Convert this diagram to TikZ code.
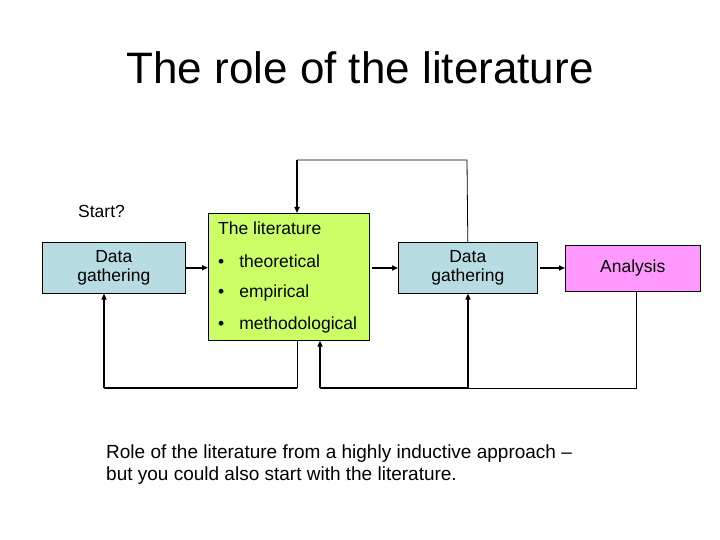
\documentclass[tikz,border=0pt]{standalone}
\usepackage{fontspec}
\setmainfont{Liberation Sans}
\usetikzlibrary{arrows.meta}
\definecolor{dgblue}{RGB}{183,221,227}
\definecolor{litgreen}{RGB}{204,255,102}
\definecolor{anapink}{RGB}{255,153,255}
\begin{document}
\begin{tikzpicture}[x=1pt,y=-1pt,
  box/.style={draw=black,line width=0.6pt,anchor=north west,inner sep=0pt,align=center,font=\fontsize{17.5}{19.5}\selectfont},
  thin/.style={line width=0.8pt},
  thick/.style={line width=1.8pt,-{Triangle[length=6pt,width=5pt]}},
  txt/.style={anchor=west,inner sep=0pt,font=\fontsize{17.5}{20}\selectfont}]
\useasboundingbox (0,0) rectangle (720,540);
\node[anchor=center,font=\fontsize{44}{48}\selectfont] (title) at (360,68) {The role of the literature};
\node[txt] (start) at (78,211) {Start?};
\node[box,fill=dgblue,minimum width=143pt,minimum height=51pt] (dg1) at (42,242) {Data\\gathering};
\node[box,fill=litgreen,minimum width=161pt,minimum height=127pt] (lit) at (208,213) {};
\node[txt] (lt) at (218,228) {The literature};
\node[txt] (b1) at (218,261) {•\hspace{15pt}theoretical};
\node[txt] (b2) at (218,293) {•\hspace{15pt}empirical};
\node[txt] (b3) at (218,325) {•\hspace{15pt}methodological};
\node[box,fill=dgblue,minimum width=139pt,minimum height=51pt] (dg2) at (398,242) {Data\\gathering};
\node[box,fill=anapink,minimum width=135pt,minimum height=46pt] (ana) at (565,245) {Analysis};
\node[anchor=north west,align=left,inner sep=0pt,font=\fontsize{19}{22}\selectfont] (cap) at (106,445) {Role of the literature from a highly inductive approach --\\but you could also start with the literature.};
\coordinate (a1) at (104,388); \coordinate (a2) at (297,388);
\coordinate (c1) at (320,388); \coordinate (c2) at (468,388); \coordinate (c3) at (636,388);
\coordinate (t1) at (297,160); \coordinate (t2) at (467,160);
\coordinate (h1) at (372,268); \coordinate (h2) at (540,268);
% horizontal arrows
\draw[thick] (dg1.east) -- (dg1.east -| lit.west);
\draw[thick] (h1) -- (h1 -| dg2.west);
\draw[thick] (h2) -- (h2 -| ana.west);
% top loop
\draw[thin] (dg2.north) -- (t2) -- (t1);
\draw[thick] (t1) -- (lit.north -| t1);
% bottom left loop
\draw[thin] (lit.south -| a2) -- (a2);
\draw[thick,-] (a2) -- (a1);
\draw[thick] (a1) -- (dg1.south -| a1);
% bottom right loop
\draw[thin] (ana.south -| c3) -- (c3) -- (c2);
\draw[thick,-] (c2) -- (c1);
\draw[thick] (c1) -- (lit.south -| c1);
\draw[thick] (c2) -- (dg2.south -| c2);
\end{tikzpicture}
\end{document}
